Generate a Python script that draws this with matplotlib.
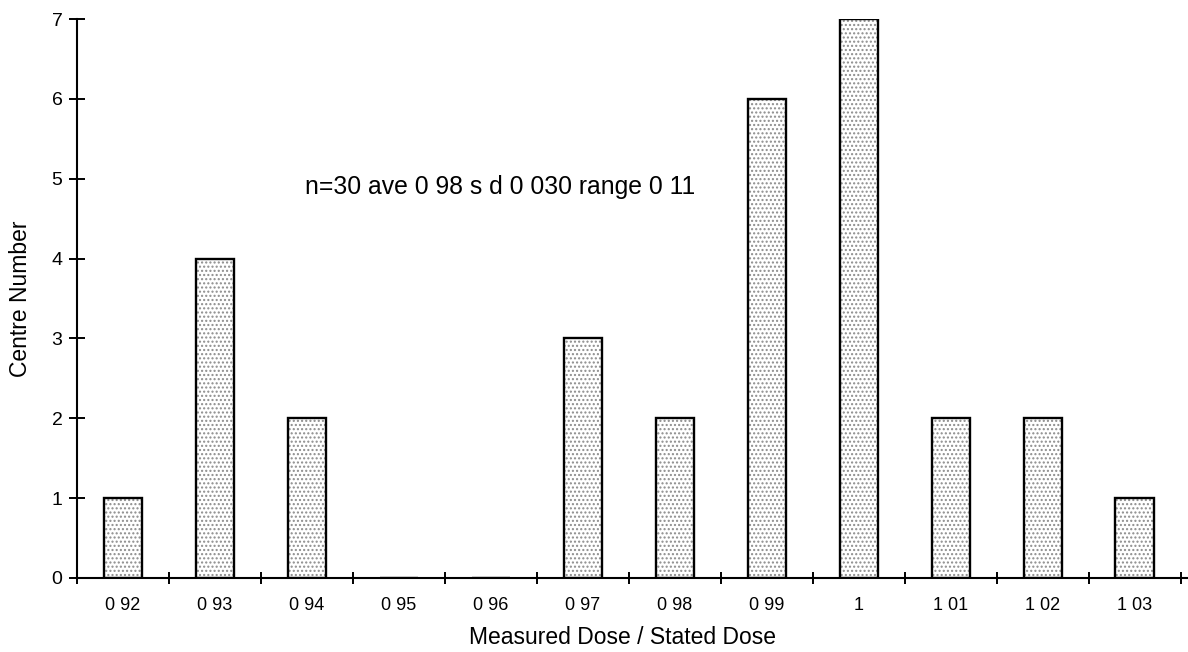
import matplotlib
matplotlib.use("Agg")
import matplotlib.pyplot as plt
import numpy as np

# Dose ratio categories and number of centres in each
categories = ["0 92", "0 93", "0 94", "0 95", "0 96", "0 97",
              "0 98", "0 99", "1", "1 01", "1 02", "1 03"]
counts = [1, 4, 2, 0, 0, 3, 2, 6, 7, 2, 2, 1]
summary = "n=30 ave 0 98 s d 0 030 range 0 11"

plt.rcParams["font.family"] = ["Liberation Sans", "DejaVu Sans"]
plt.rcParams["hatch.linewidth"] = 1.0

fig = plt.figure(figsize=(11.88, 6.52), dpi=100)
ax = fig.add_axes([77 / 1188, 1 - 578 / 652, 1110 / 1188, 559 / 652])

x = np.arange(len(categories))
width = 0.415

# stippled fill, then a black outline on top
ax.bar(x, counts, width=width, color="white", edgecolor="#8c8c8c",
       hatch="....", linewidth=0, zorder=2)
ax.bar(x, counts, width=width, fill=False, edgecolor="black",
       linewidth=1.7, zorder=3)

ax.set_xlim(-0.5, 11.57)
ax.set_ylim(0, 7)

for side in ("top", "right"):
    ax.spines[side].set_visible(False)
for side in ("left", "bottom"):
    ax.spines[side].set_linewidth(1.5)

ax.set_yticks(range(0, 8))
ax.tick_params(axis="y", direction="inout", length=11, width=1.4,
               labelsize=14, pad=5)

ax.set_xticks(x)
ax.set_xticklabels(categories)
ax.set_xticks(np.arange(-0.5, len(categories) + 0.5, 1.0), minor=True)
ax.tick_params(axis="x", which="major", length=0, labelsize=13, pad=14)
ax.tick_params(axis="x", which="minor", direction="inout", length=9,
               width=1.4)

ax.set_xlabel("Measured Dose / Stated Dose", fontsize=16.5)
ax.xaxis.set_label_coords(0.491, -0.086)
ax.set_ylabel("Centre Number", fontsize=16.5, labelpad=14)

ax.text(1.98, 4.9, summary, ha="left", va="center", fontsize=17.8)

fig.savefig("out.png", dpi=100)
